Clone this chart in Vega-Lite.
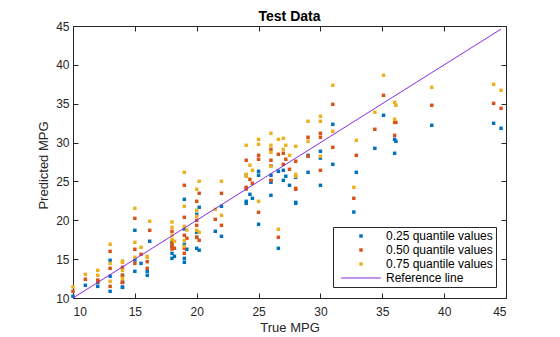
{
  "$schema": "https://vega.github.io/schema/vega-lite/v6.json",
  "width": 433,
  "height": 272,
  "autosize": {"type": "none"},
  "padding": {"left": 73, "top": 26, "right": 54, "bottom": 39},
  "background": "white",
  "config": {
    "view": {"stroke": "#262626", "strokeWidth": 1},
    "font": "Liberation Sans",
    "axis": {"grid": false, "domainColor": "#262626", "tickColor": "#262626", "labelColor": "#262626", "titleColor": "#262626", "labelFont": "Liberation Sans", "titleFont": "Liberation Sans", "labelFontSize": 12, "titleFontSize": 13, "titleFontWeight": "normal", "tickSize": -5}
  },
  "title": {"text": "Test Data", "font": "Liberation Sans", "fontSize": 14, "fontWeight": "bold", "color": "#000000", "baseline": "alphabetic", "offset": 7, "dy": 22, "anchor": "middle"},
  "datasets": {
    "pts": [
      {"t": 10, "a": 10.22, "b": 10.86, "c": 11.45},
      {"t": 11, "a": 11.63, "b": 12.41, "c": 13.05},
      {"t": 12, "a": 12.0, "b": 12.3, "c": 13.56},
      {"t": 12, "a": 11.5, "b": 12.1, "c": 12.92},
      {"t": 13, "a": 14.85, "b": 16.0, "c": 16.91},
      {"t": 13, "a": 12.8, "b": 13.82, "c": 14.46},
      {"t": 13, "a": 10.86, "b": 11.5, "c": 12.15},
      {"t": 14, "a": 12.92, "b": 13.95, "c": 14.76},
      {"t": 14, "a": 12.02, "b": 12.92, "c": 14.59},
      {"t": 14, "a": 11.37, "b": 12.02, "c": 13.56},
      {"t": 14, "a": 11.4, "b": 12.0, "c": 12.53},
      {"t": 15, "a": 18.71, "b": 20.25, "c": 21.54},
      {"t": 15, "a": 14.89, "b": 16.27, "c": 17.17},
      {"t": 15, "a": 13.43, "b": 14.46, "c": 15.24},
      {"t": 15.5, "a": 14.46, "b": 15.62, "c": 16.52},
      {"t": 16, "a": 13.43, "b": 14.67, "c": 15.36},
      {"t": 16, "a": 12.92, "b": 13.82, "c": 15.24},
      {"t": 16.2, "a": 17.3, "b": 18.71, "c": 19.87},
      {"t": 18, "a": 17.17, "b": 18.58, "c": 19.78},
      {"t": 18, "a": 16.65, "b": 17.04, "c": 19.1},
      {"t": 18, "a": 15.75, "b": 16.65, "c": 18.07},
      {"t": 18, "a": 15.1, "b": 16.3, "c": 17.55},
      {"t": 18.2, "a": 15.36, "b": 16.4, "c": 17.3},
      {"t": 19, "a": 22.7, "b": 24.5, "c": 26.17},
      {"t": 19, "a": 18.88, "b": 20.38, "c": 21.8},
      {"t": 19, "a": 16.9, "b": 18.07, "c": 19.22},
      {"t": 19, "a": 15.1, "b": 16.39, "c": 17.42},
      {"t": 19, "a": 14.59, "b": 15.75, "c": 16.65},
      {"t": 19.2, "a": 16.27, "b": 17.68, "c": 18.75},
      {"t": 20, "a": 20.77, "b": 22.44, "c": 23.99},
      {"t": 20, "a": 18.45, "b": 20.0, "c": 21.28},
      {"t": 20, "a": 17.81, "b": 19.35, "c": 20.51},
      {"t": 20, "a": 16.39, "b": 17.81, "c": 18.71},
      {"t": 20.2, "a": 21.67, "b": 23.47, "c": 25.02},
      {"t": 20.2, "a": 16.14, "b": 17.42, "c": 18.45},
      {"t": 21.5, "a": 18.58, "b": 20.13, "c": 21.41},
      {"t": 22, "a": 21.8, "b": 23.47, "c": 25.02},
      {"t": 22, "a": 17.94, "b": 19.35, "c": 20.64},
      {"t": 24, "a": 25.8, "b": 27.72, "c": 29.65},
      {"t": 24, "a": 22.44, "b": 24.24, "c": 25.92},
      {"t": 24, "a": 22.18, "b": 24.02, "c": 25.66},
      {"t": 24.3, "a": 23.34, "b": 25.27, "c": 27.08},
      {"t": 24.5, "a": 22.83, "b": 24.76, "c": 26.43},
      {"t": 25, "a": 26.3, "b": 28.36, "c": 30.42},
      {"t": 25, "a": 25.79, "b": 27.85, "c": 29.78},
      {"t": 25, "a": 19.48, "b": 21.03, "c": 22.44},
      {"t": 26, "a": 25.79, "b": 29.13, "c": 31.19},
      {"t": 26, "a": 24.89, "b": 27.72, "c": 29.65},
      {"t": 26, "a": 23.21, "b": 25.14, "c": 26.95},
      {"t": 26, "a": 25.1, "b": 27.0, "c": 28.75},
      {"t": 26.6, "a": 26.3, "b": 28.49, "c": 30.42},
      {"t": 26.6, "a": 16.39, "b": 17.81, "c": 18.84},
      {"t": 27, "a": 26.43, "b": 28.62, "c": 30.55},
      {"t": 27, "a": 25.14, "b": 27.2, "c": 29.13},
      {"t": 27.2, "a": 25.66, "b": 27.85, "c": 29.65},
      {"t": 27.5, "a": 24.5, "b": 26.56, "c": 28.36},
      {"t": 28, "a": 25.53, "b": 27.59, "c": 29.52},
      {"t": 28, "a": 22.31, "b": 24.11, "c": 25.92},
      {"t": 28, "a": 22.18, "b": 23.99, "c": 25.66},
      {"t": 29, "a": 28.36, "b": 30.68, "c": 32.74},
      {"t": 29, "a": 26.17, "b": 28.23, "c": 30.16},
      {"t": 30, "a": 28.88, "b": 31.19, "c": 33.38},
      {"t": 30, "a": 28.0, "b": 30.68, "c": 32.74},
      {"t": 30, "a": 24.5, "b": 26.43, "c": 28.23},
      {"t": 31, "a": 32.35, "b": 34.92, "c": 37.37},
      {"t": 31, "a": 27.2, "b": 29.39, "c": 31.45},
      {"t": 32.7, "a": 21.06, "b": 22.83, "c": 24.24},
      {"t": 32.9, "a": 26.17, "b": 28.36, "c": 30.29},
      {"t": 34.4, "a": 29.26, "b": 31.71, "c": 33.9},
      {"t": 35.1, "a": 33.51, "b": 36.08, "c": 38.66},
      {"t": 36, "a": 30.42, "b": 32.6, "c": 35.18},
      {"t": 36, "a": 28.62, "b": 30.93, "c": 33.0},
      {"t": 36.1, "a": 30.16, "b": 32.6, "c": 34.8},
      {"t": 39, "a": 32.22, "b": 34.8, "c": 37.11},
      {"t": 44, "a": 32.48, "b": 35.05, "c": 37.5},
      {"t": 44.6, "a": 31.84, "b": 34.41, "c": 36.73}
    ],
    "ref": [
      {"t": 10, "p": 10},
      {"t": 44.6, "p": 44.6}
    ]
  },
  "layer": [
    {
      "data": {"name": "pts"},
      "transform": [{"fold": ["a", "b", "c"], "as": ["s", "p"]}],
      "mark": {"type": "point", "filled": true, "opacity": 1, "size": 12},
      "encoding": {
        "x": {"field": "t", "type": "quantitative", "scale": {"domain": [10, 45], "nice": false, "zero": false},
              "axis": {"orient": "bottom", "title": "True MPG", "values": [10, 15, 20, 25, 30, 35, 40, 45], "labelPadding": 13, "labelBaseline": "top", "titleY": 33, "titleBaseline": "alphabetic", "domain": false}},
        "y": {"field": "p", "type": "quantitative", "scale": {"domain": [10, 45], "nice": false, "zero": false},
              "axis": {"orient": "left", "title": "Predicted MPG", "values": [10, 15, 20, 25, 30, 35, 40, 45], "labelPadding": 9, "titleX": -26, "titleY": 139, "titleBaseline": "alphabetic", "domain": false}},
        "color": {"field": "s", "type": "nominal",
                  "scale": {"domain": ["a", "b", "c", "r"], "range": ["#0072BD", "#D95319", "#EDB120", "#8A2BE2"]},
                  "legend": {"title": null, "orient": "none", "legendX": 260, "legendY": 201,
                             "labelExpr": "datum.value == 'a' ? '0.25 quantile values' : datum.value == 'b' ? '0.50 quantile values' : datum.value == 'c' ? '0.75 quantile values' : 'Reference line'",
                             "labelFont": "Liberation Sans", "labelFontSize": 12, "labelColor": "#000000", "labelOffset": 19,
                             "strokeColor": "#262626", "fillColor": "white", "padding": 3, "rowPadding": 2,
                             "symbolSize": 12, "symbolOffset": 19,
                             "symbolStrokeWidth": 1,
                             "symbolStrokeColor": {"expr": "datum.value == 'r' ? '#8A2BE2' : 'transparent'"}}},
        "shape": {"field": "s", "type": "nominal",
                  "scale": {"domain": ["a", "b", "c", "r"], "range": ["square", "square", "square", "M-11.5,0H11.5"]}},
        "order": {"field": "s"}
      }
    },
    {
      "data": {"name": "ref"},
      "mark": {"type": "line", "color": "#8A2BE2", "strokeWidth": 1},
      "encoding": {
        "x": {"field": "t", "type": "quantitative", "axis": {"orient": "top", "labels": false, "title": null, "values": [10, 15, 20, 25, 30, 35, 40, 45], "domain": false}},
        "y": {"field": "p", "type": "quantitative", "axis": {"orient": "right", "labels": false, "title": null, "values": [10, 15, 20, 25, 30, 35, 40, 45], "domain": false}}
      }
    }
  ],
  "resolve": {"axis": {"x": "independent", "y": "independent"}}
}
